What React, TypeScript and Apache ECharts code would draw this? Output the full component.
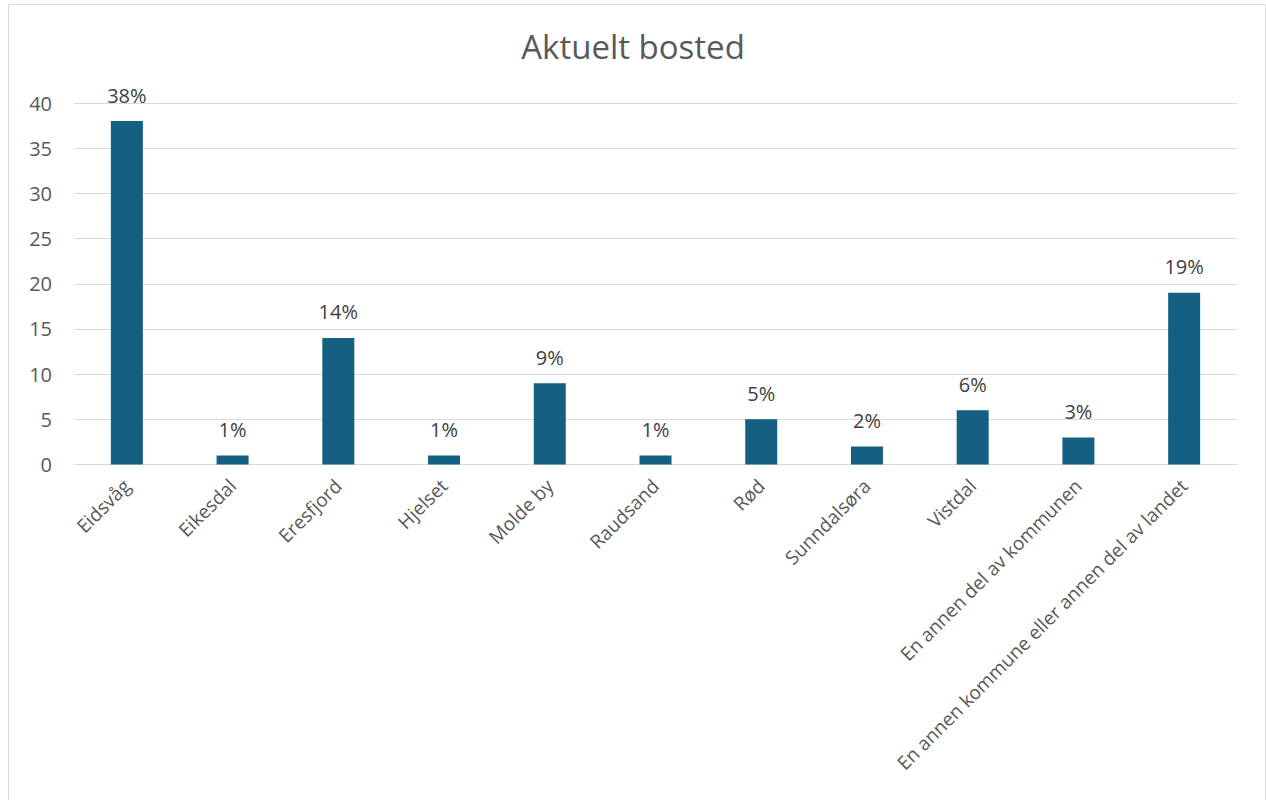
import React, { useEffect, useRef } from "react";
import * as echarts from "echarts";

const categories = [
  "Eidsvåg",
  "Eikesdal",
  "Eresfjord",
  "Hjelset",
  "Molde by",
  "Raudsand",
  "Rød",
  "Sunndalsøra",
  "Vistdal",
  "En annen del av kommunen",
  "En annen kommune eller annen del av landet",
];
const values = [38, 1, 14, 1, 9, 1, 5, 2, 6, 3, 19];
const labels = ["38%", "1%", "14%", "1%", "9%", "1%", "5%", "2%", "6%", "3%", "19%"];

const FONT = "'Open Sans', 'Liberation Sans', sans-serif";

export default function App() {
  const ref = useRef<HTMLDivElement>(null);
  useEffect(() => {
    if (!ref.current) return;
    const chart = echarts.init(ref.current, null, { renderer: "svg" });
    chart.setOption({
      animation: false,
      backgroundColor: "#ffffff",
      title: {
        text: "Aktuelt bosted",
        left: "center",
        top: 25,
        textStyle: { fontFamily: FONT, fontSize: 33, fontWeight: "normal", color: "#595959" },
      },
      graphic: [
        {
          type: "rect",
          shape: { x: 8.5, y: 4.5, width: 1257, height: 810 },
          style: { fill: "none", stroke: "#d9d9d9", lineWidth: 1 },
          silent: true,
        },
      ],
      grid: { left: 74, right: 29, top: 103, bottom: 335.5, containLabel: false },
      xAxis: {
        type: "category",
        data: categories,
        axisLine: { show: true, lineStyle: { color: "#d9d9d9", width: 1 } },
        axisTick: { show: false },
        axisLabel: {
          rotate: 45,
          interval: 0,
          margin: 18,
          fontFamily: FONT,
          fontSize: 19,
          color: "#595959",
        },
      },
      yAxis: {
        type: "value",
        min: 0,
        max: 40,
        interval: 5,
        axisLine: { show: false },
        axisTick: { show: false },
        splitLine: { lineStyle: { color: "#d9d9d9", width: 1 } },
        axisLabel: { margin: 22, fontFamily: FONT, fontSize: 20, color: "#595959" },
      },
      series: [
        {
          type: "bar",
          data: values,
          barWidth: 32,
          itemStyle: { color: "#156082" },
          label: {
            show: true,
            position: "top",
            distance: 16,
            formatter: (p: any) => labels[p.dataIndex],
            fontFamily: FONT,
            fontSize: 20,
            color: "#404040",
          },
        },
      ],
    });
    return () => chart.dispose();
  }, []);
  return (
    <div
      ref={ref}
      style={{ position: "fixed", left: 0, top: 0, width: 1266, height: 800 }}
    />
  );
}
